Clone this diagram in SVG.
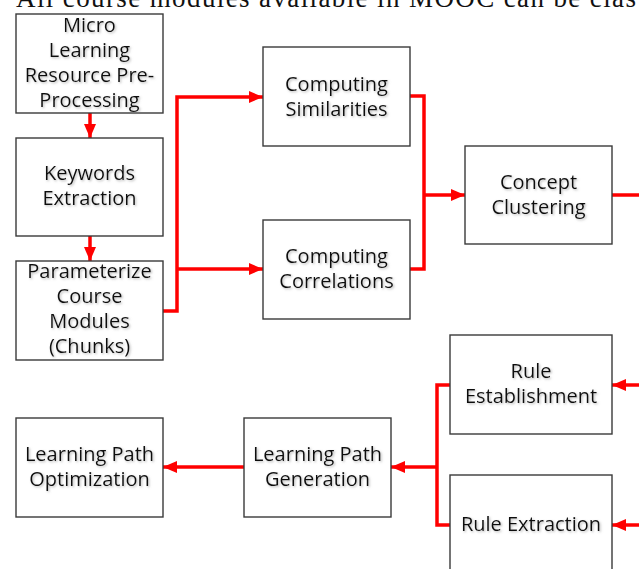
<svg xmlns="http://www.w3.org/2000/svg" width="639" height="569" viewBox="0 0 639 569">
  <defs>
    <filter id="txtShadow" x="-10%" y="-30%" width="120%" height="160%">
      <feDropShadow dx="1.2" dy="1.2" stdDeviation="0.9" flood-color="#808080" flood-opacity="0.55"/>
    </filter>
    <marker id="arrow" markerUnits="userSpaceOnUse" markerWidth="15" markerHeight="15" viewBox="0 0 15 15" refX="14" refY="7.5" orient="auto">
      <path d="M0,1.5 L14,7.5 L0,13.5 Z" fill="#ff0000"/>
    </marker>
    <style>
      .box { fill: #ffffff; stroke: #3a3a3a; stroke-width: 1.4; }
      .lbl { font-family: "Open Sans", "Noto Sans", sans-serif; font-size: 20px; fill: #111111; text-anchor: middle; filter: url(#txtShadow); }
      .wire { fill: none; stroke: #ff0000; stroke-width: 3.5; stroke-linejoin: miter; }
      .head { marker-end: url(#arrow); }
      .caption { font-family: "Liberation Serif", "DejaVu Serif", serif; font-size: 27px; fill: #111111; }
    </style>
  </defs>

  <rect width="639" height="569" fill="#ffffff"/>

  <!-- running text line above the figure, clipped by the top edge -->
  <text class="caption" x="16" y="7" textLength="620" lengthAdjust="spacing">All course modules available in MOOC can be clas</text>

  <!-- connectors -->
  <g id="connectors">
    <line class="wire head" x1="90" y1="113" x2="90" y2="138"/>
    <line class="wire head" x1="90" y1="236" x2="90" y2="261"/>
    <polyline class="wire head" points="163,311 177,311 177,97 263,97"/>
    <line class="wire head" x1="177" y1="269" x2="263" y2="269"/>
    <polyline class="wire" points="410,96 424,96 424,269 410,269"/>
    <line class="wire head" x1="424" y1="195" x2="465" y2="195"/>
    <line class="wire" x1="612" y1="195" x2="639" y2="195"/>
    <line class="wire head" x1="640" y1="385" x2="612" y2="385"/>
    <line class="wire head" x1="640" y1="525" x2="612" y2="525"/>
    <polyline class="wire" points="450,385 437,385 437,525 450,525"/>
    <line class="wire head" x1="437" y1="467" x2="391" y2="467"/>
    <line class="wire head" x1="244" y1="467" x2="163" y2="467"/>
  </g>

  <g id="preprocessing">
    <rect class="box" x="16" y="14" width="147" height="99"/>
    <text class="lbl" x="89.5" y="32">Micro</text>
    <text class="lbl" x="89.5" y="57">Learning</text>
    <text class="lbl" x="89.5" y="82">Resource Pre-</text>
    <text class="lbl" x="89.5" y="107">Processing</text>
  </g>

  <g id="keywords">
    <rect class="box" x="16" y="138" width="147" height="98"/>
    <text class="lbl" x="89.5" y="180">Keywords</text>
    <text class="lbl" x="89.5" y="205">Extraction</text>
  </g>

  <g id="parameterize">
    <rect class="box" x="16" y="261" width="147" height="99"/>
    <text class="lbl" x="89.5" y="278">Parameterize</text>
    <text class="lbl" x="89.5" y="303">Course</text>
    <text class="lbl" x="89.5" y="328">Modules</text>
    <text class="lbl" x="89.5" y="353">(Chunks)</text>
  </g>

  <g id="similarities">
    <rect class="box" x="263" y="47" width="147" height="99"/>
    <text class="lbl" x="336.5" y="91">Computing</text>
    <text class="lbl" x="336.5" y="116">Similarities</text>
  </g>

  <g id="correlations">
    <rect class="box" x="263" y="220" width="147" height="99"/>
    <text class="lbl" x="336.5" y="263">Computing</text>
    <text class="lbl" x="336.5" y="288">Correlations</text>
  </g>

  <g id="clustering">
    <rect class="box" x="465" y="146" width="147" height="98"/>
    <text class="lbl" x="538.5" y="189">Concept</text>
    <text class="lbl" x="538.5" y="214">Clustering</text>
  </g>

  <g id="rule-establishment">
    <rect class="box" x="450" y="335" width="162" height="99"/>
    <text class="lbl" x="531" y="378">Rule</text>
    <text class="lbl" x="531" y="403">Establishment</text>
  </g>

  <g id="rule-extraction">
    <rect class="box" x="450" y="475" width="162" height="99"/>
    <text class="lbl" x="531" y="531">Rule Extraction</text>
  </g>

  <g id="path-generation">
    <rect class="box" x="244" y="418" width="147" height="99"/>
    <text class="lbl" x="317.5" y="461">Learning Path</text>
    <text class="lbl" x="317.5" y="486">Generation</text>
  </g>

  <g id="path-optimization">
    <rect class="box" x="16" y="418" width="147" height="99"/>
    <text class="lbl" x="89.5" y="461">Learning Path</text>
    <text class="lbl" x="89.5" y="486">Optimization</text>
  </g>
</svg>
